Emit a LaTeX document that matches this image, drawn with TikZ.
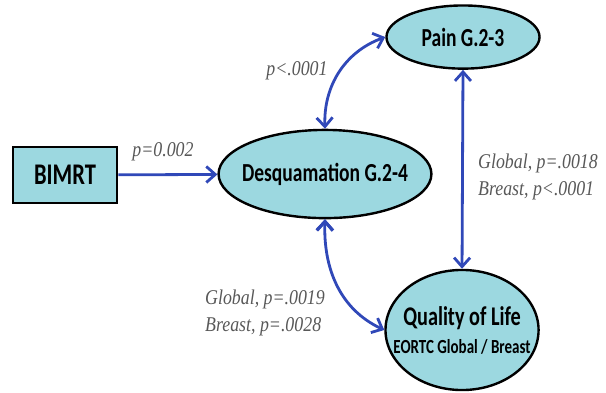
\documentclass[tikz,border=0pt]{standalone}
\usepackage{fontspec}
\setmainfont{Liberation Serif}
\newfontfamily\nodefont[FakeStretch=0.75]{Carlito}
\newfontfamily\labelfont[FakeStretch=0.85]{Liberation Serif}
\usetikzlibrary{calc, arrows.meta, positioning, shapes.geometric}

\definecolor{nodefill}{RGB}{156,216,224}
\definecolor{arrowblue}{RGB}{48,72,184}
\definecolor{labelgray}{RGB}{88,88,88}

\begin{document}
\begin{tikzpicture}[auto, >={Straight Barb[length=4.5pt,width=8pt]}]
					\tikzstyle{box} = [line width=1.2pt, draw=black, fill=nodefill, rectangle, font=\nodefont\bfseries\fontsize{15}{17}\selectfont, minimum width=1.83cm, minimum height=0.98cm, inner sep=0pt]
					\tikzstyle{round} = [line width=1.2pt, draw=black, fill=nodefill, ellipse, font=\nodefont\bfseries\fontsize{13}{15}\selectfont, inner sep=-30pt, align=center]
					\tikzstyle{link} = [line width=1.4pt, draw=arrowblue]
					\tikzstyle{lbl} = [font=\labelfont\itshape\fontsize{10.5}{13.5}\selectfont, text=labelgray, align=left, inner sep=0pt]
					
					\useasboundingbox (0, 0) rectangle (10.649, 6.889);
					
					\node[box] 	at (1.142, 3.813)	(q0)	{BIMRT};
					\node[round, minimum width=3.74cm, minimum height=1.55cm]	at (5.711, 3.831)	(q1)	{Desquamation G.2-4};
					\node[round, minimum width=2.69cm, minimum height=1.11cm]	at (8.136, 6.238)	(q2)	{Pain G.2-3};
					\node[round, minimum width=2.69cm, minimum height=2.11cm, font=\nodefont\bfseries\fontsize{13.5}{15}\selectfont]	at (8.119, 1.090)	(q3)	{Quality of Life\\[-1pt]{\fontsize{10}{12}\selectfont EORTC Global / Breast}};
					
					\node[lbl]	at (2.864, 4.218)	(l0)	{p=0.002};
					\node[lbl]	at (5.219, 5.641)	(l1)	{p<.0001};
					\node[lbl]	at (9.454, 3.778)	(l2)	{Global, p=.0018\\Breast, p<.0001};
					\node[lbl]	at (4.657, 1.388)	(l3)	{Global, p=.0019\\Breast, p=.0028};
					
					\path[link, ->]
					(q0)	edge	(q1);
					
					\path[link, <->]
					(q1.north)	edge[out=92, in=200]	(q2.west)
					(q2.south)	edge	(q3.north)
					(q1.south)	edge[out=-92, in=155]	(q3.west);
				\end{tikzpicture}
\end{document}
